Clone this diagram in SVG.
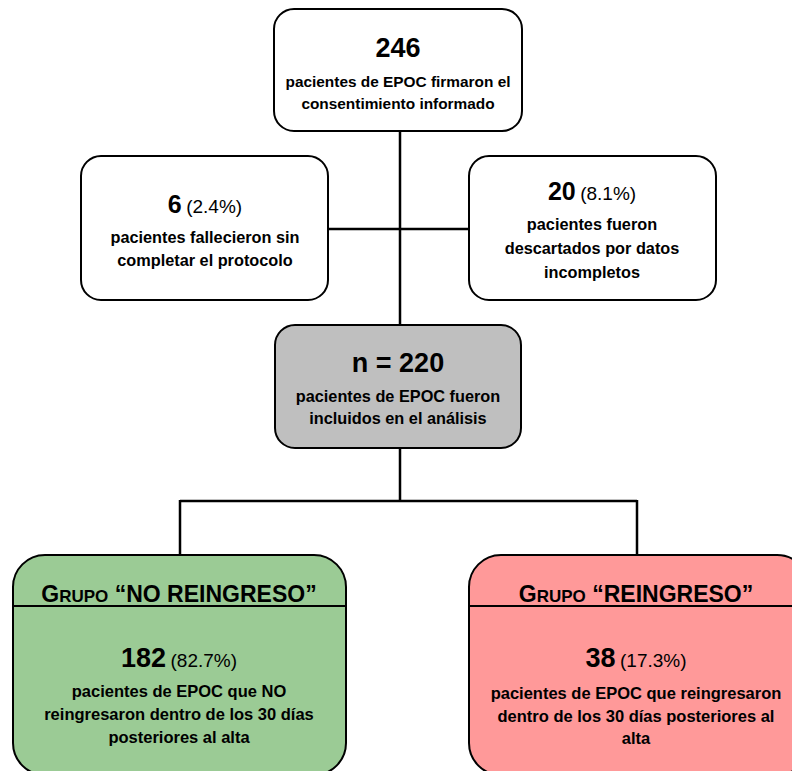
<svg xmlns="http://www.w3.org/2000/svg" width="792" height="771" viewBox="0 0 792 771">
<style>
.box{stroke:#000;stroke-width:2}
.t{font-family:"Liberation Sans",Arial,sans-serif;font-weight:bold;fill:#000;text-anchor:middle}
.s{font-size:16.3px}
.top{font-size:15.4px}
.b{font-size:16.5px}
.pct{font-size:19px;font-weight:normal}
.line{stroke:#000;stroke-width:2.5;fill:none}
</style>
<rect width="792" height="771" fill="#fff"/>
<g id="connectors">
<path class="line" d="M400 131V325M328 229H468M400 448V501M180 501H637M180 500V555M637 500V555"/>
</g>
<g id="n246">
<rect class="box" x="274" y="9" width="248" height="122" rx="20" fill="#fff"/>
<text class="t" x="398" y="57" font-size="27">246</text>
<text class="t top" x="398" y="87">pacientes de EPOC firmaron el</text>
<text class="t top" x="398" y="109">consentimiento informado</text>
</g>
<g id="fallecidos">
<rect class="box" x="81" y="156" width="247" height="144" rx="20" fill="#fff"/>
<text class="t" x="205" y="213"><tspan font-size="25">6</tspan> <tspan class="pct">(2.4%)</tspan></text>
<text class="t s" x="205" y="243">pacientes fallecieron sin</text>
<text class="t s" x="205" y="266">completar el protocolo</text>
</g>
<g id="descartados">
<rect class="box" x="469" y="156" width="247" height="144" rx="20" fill="#fff"/>
<text class="t" x="592" y="200"><tspan font-size="25">20</tspan> <tspan class="pct">(8.1%)</tspan></text>
<text class="t s" x="592" y="230">pacientes fueron</text>
<text class="t s" x="592" y="254">descartados por datos</text>
<text class="t s" x="592" y="278">incompletos</text>
</g>
<g id="n220">
<rect class="box" x="275" y="325" width="246" height="123" rx="20" fill="#bfbfbf"/>
<text class="t" x="398" y="372" font-size="27">n = 220</text>
<text class="t s" x="398" y="402">pacientes de EPOC fueron</text>
<text class="t s" x="398" y="424">incluidos en el análisis</text>
</g>
<g id="noreingreso">
<rect class="box" x="13" y="555" width="333" height="220" rx="32" fill="#9bcb95"/>
<line x1="13" y1="606" x2="346" y2="606" stroke="#000" stroke-width="2"/>
<text class="t" x="179" y="602"><tspan font-size="23">G</tspan><tspan font-size="17">RUPO</tspan><tspan font-size="23"> “NO REINGRESO”</tspan></text>
<text class="t" x="179" y="667"><tspan font-size="27">182</tspan> <tspan class="pct">(82.7%)</tspan></text>
<text class="t b" x="179" y="697">pacientes de EPOC que NO</text>
<text class="t b" x="179" y="720">reingresaron dentro de los 30 días</text>
<text class="t b" x="179" y="743">posteriores al alta</text>
</g>
<g id="reingreso">
<rect class="box" x="469" y="555" width="340" height="220" rx="32" fill="#ff9999"/>
<line x1="469" y1="606" x2="792" y2="606" stroke="#000" stroke-width="2"/>
<text class="t" x="636" y="602"><tspan font-size="23">G</tspan><tspan font-size="17">RUPO</tspan><tspan font-size="23"> “REINGRESO”</tspan></text>
<text class="t" x="636" y="667"><tspan font-size="27">38</tspan> <tspan class="pct">(17.3%)</tspan></text>
<text class="t b" x="636" y="699">pacientes de EPOC que reingresaron</text>
<text class="t b" x="636" y="722">dentro de los 30 días posteriores al</text>
<text class="t b" x="636" y="744">alta</text>
</g>
</svg>
